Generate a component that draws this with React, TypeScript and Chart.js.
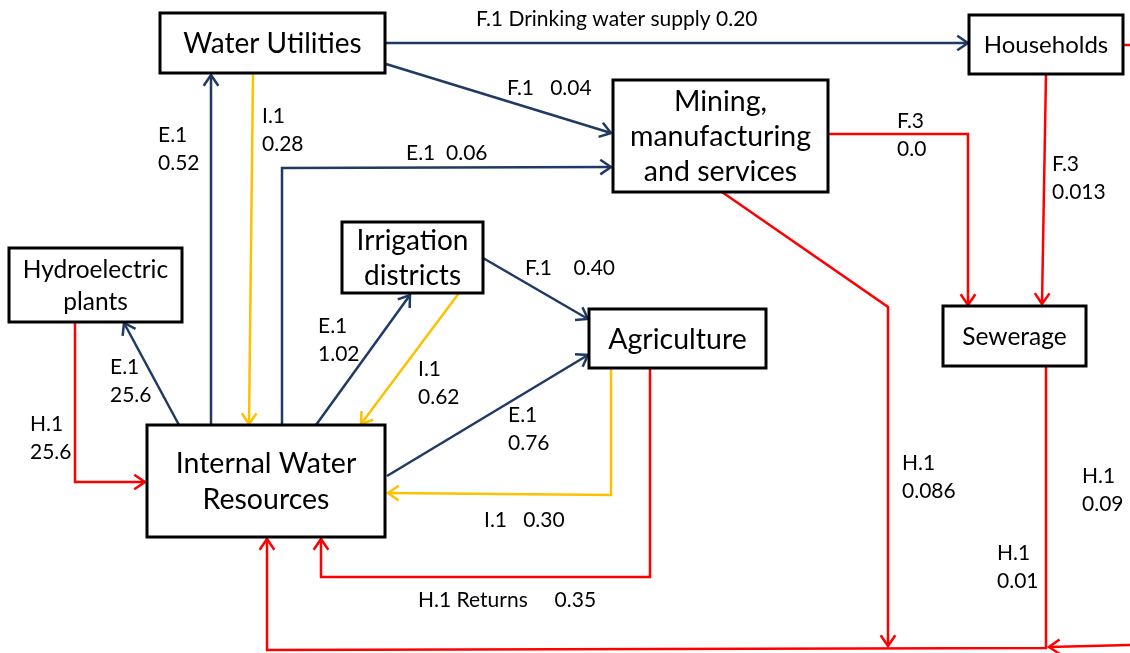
import React, { useEffect, useRef } from "react";
import { Chart, registerables } from "chart.js";

Chart.register(...registerables);

// ---------- data ----------
const NODE_NAMES = [
  "Water Utilities",
  "Households",
  "Mining,\nmanufacturing\nand services",
  "Hydroelectric\nplants",
  "Irrigation\ndistricts",
  "Agriculture",
  "Sewerage",
  "Internal Water\nResources",
];

const FLOW_CODES = [
  "F.1 Drinking water supply", "F.1", "E.1", "E.1", "I.1", "E.1", "H.1", "E.1", "I.1",
  "F.1", "E.1", "I.1", "H.1 Returns", "F.3", "F.3", "H.1", "H.1", "H.1",
];
const FLOW_VALUES = [
  "0.20", "0.04", "0.06", "0.52", "0.28", "25.6", "25.6", "1.02", "0.62",
  "0.40", "0.76", "0.30", "0.35", "0.0", "0.013", "0.086", "0.01", "0.09",
];

// ---------- layout (diagram coordinates, 0..1130 x 0..653) ----------
const NODE_BOXES = [
  [160, 13, 385, 73],
  [969, 15, 1123, 74],
  [613, 80, 828, 192],
  [9, 248, 182, 322],
  [342, 222, 483, 293],
  [589, 309, 766, 368],
  [943, 306, 1086, 366],
  [147, 425, 385, 537],
];
const NODE_FONT = [28, 24, 28.5, 24.5, 28, 28.5, 24.5, 28.5];
const NODE_LINE_GAP = [0, 0, 35, 32, 35, 0, 0, 36];

// label: [x, y, stacked?, gap spaces]
const LABEL_POS = [
  [476, 19, 0, 1], [507, 88, 0, 3], [406, 153, 0, 2], [158, 135, 1, 0], [262, 116, 1, 0],
  [110, 367, 1, 0], [30, 424, 1, 0], [318, 326, 1, 0], [418, 369, 1, 0], [525, 268, 0, 4],
  [508, 415, 1, 0], [484, 520, 0, 3], [418, 600, 0, 5], [897, 121, 1, 0], [1052, 164, 1, 0],
  [902, 463, 1, 0], [997, 553, 1, 0], [1082, 476, 1, 0],
];

// connector paths; last point is arrow tip if ARROW flag set
const PATHS = [
  [[386, 43], [968, 43]],
  [[386, 64], [611, 133]],
  [[282, 425], [282, 168], [611, 167]],
  [[211, 425], [211, 75]],
  [[253, 74], [249, 424]],
  [[179, 425], [124, 323]],
  [[75, 322], [75, 482], [145, 482]],
  [[316, 425], [410, 295]],
  [[459, 293], [361, 424]],
  [[483, 258], [588, 319]],
  [[387, 476], [588, 355]],
  [[611, 368], [611, 495], [388, 493]],
  [[650, 368], [650, 577], [321, 577], [321, 539]],
  [[828, 134], [968, 134], [968, 305]],
  [[1046, 74], [1042, 304]],
  [[722, 192], [888, 307], [888, 646]],
  [[1046, 366], [1046, 648], [267, 650], [267, 539]],
  [[1130, 645], [1049, 647]],
  [[1117, 45], [1130, 45]],
];
const PATH_KIND = [
  "supply", "supply", "abstraction", "abstraction", "inflow", "abstraction", "return", "abstraction", "inflow",
  "supply", "abstraction", "inflow", "return", "return", "return", "return", "return", "return", "return",
];
const PATH_ARROW = [1, 1, 1, 1, 1, 1, 1, 1, 1, 1, 1, 1, 1, 1, 1, 1, 1, 1, 0];

const KIND_COLOR: Record<string, string> = {
  supply: "#1F3A63",
  abstraction: "#1F3A63",
  inflow: "#FFC000",
  return: "#FF0000",
};

const FONT = 'Lato, "Open Sans", sans-serif';
const LABEL_FONT = 21;

export default function App() {
  const ref = useRef<HTMLCanvasElement | null>(null);

  useEffect(() => {
    if (!ref.current) return;

    const datasets = PATHS.map((p, i) => ({
      label: "path" + i,
      data: p.map(([x, y]) => ({ x, y })),
      showLine: true,
      borderColor: KIND_COLOR[PATH_KIND[i]],
      backgroundColor: KIND_COLOR[PATH_KIND[i]],
      borderWidth: 2.5,
      pointRadius: 0,
      tension: 0,
      fill: false,
      borderJoinStyle: "miter" as const,
    }));

    const diagramPlugin = {
      id: "diagram",
      afterDatasetsDraw(chart: any) {
        const ctx = chart.ctx as CanvasRenderingContext2D;
        const sx = chart.scales.x;
        const sy = chart.scales.y;
        const X = (v: number) => sx.getPixelForValue(v);
        const Y = (v: number) => sy.getPixelForValue(v);
        ctx.save();

        // arrowheads
        PATHS.forEach((p, i) => {
          if (!PATH_ARROW[i]) return;
          const a = p[p.length - 2];
          const b = p[p.length - 1];
          const x1 = X(a[0]), y1 = Y(a[1]), x2 = X(b[0]), y2 = Y(b[1]);
          const ang = Math.atan2(y2 - y1, x2 - x1);
          const len = 13;
          const spread = 0.6;
          ctx.strokeStyle = KIND_COLOR[PATH_KIND[i]];
          ctx.lineWidth = 2.5;
          ctx.lineJoin = "miter";
          ctx.beginPath();
          ctx.moveTo(x2 - len * Math.cos(ang - spread), y2 - len * Math.sin(ang - spread));
          ctx.lineTo(x2, y2);
          ctx.lineTo(x2 - len * Math.cos(ang + spread), y2 - len * Math.sin(ang + spread));
          ctx.stroke();
        });

        // boxes
        NODE_BOXES.forEach((b, i) => {
          const x1 = X(b[0]), y1 = Y(b[1]), x2 = X(b[2]), y2 = Y(b[3]);
          ctx.fillStyle = "#ffffff";
          ctx.fillRect(x1, y1, x2 - x1, y2 - y1);
          ctx.strokeStyle = "#000000";
          ctx.lineWidth = 3;
          ctx.strokeRect(x1, y1, x2 - x1, y2 - y1);
          const lines = NODE_NAMES[i].split("\n");
          ctx.fillStyle = "#000000";
          ctx.font = `${NODE_FONT[i]}px ${FONT}`;
          ctx.textAlign = "center";
          ctx.textBaseline = "middle";
          const cx = (x1 + x2) / 2;
          const cy = (y1 + y2) / 2;
          const gap = NODE_LINE_GAP[i];
          lines.forEach((ln, k) => {
            ctx.fillText(ln, cx, cy + 1 + (k - (lines.length - 1) / 2) * gap);
          });
        });

        // flow labels
        ctx.fillStyle = "#000000";
        ctx.font = `${LABEL_FONT}px ${FONT}`;
        ctx.textAlign = "left";
        ctx.textBaseline = "middle";
        LABEL_POS.forEach((pos, i) => {
          const [x, y, stacked, gap] = pos;
          if (stacked) {
            ctx.fillText(FLOW_CODES[i], X(x), Y(y));
            ctx.fillText(FLOW_VALUES[i], X(x), Y(y + 28));
          } else {
            ctx.fillText(FLOW_CODES[i] + " ".repeat(gap) + FLOW_VALUES[i], X(x), Y(y));
          }
        });
        ctx.restore();
      },
    };

    const chart = new Chart(ref.current, {
      type: "scatter",
      data: { datasets },
      options: {
        animation: false,
        responsive: false,
        maintainAspectRatio: false,
        layout: { padding: 0 },
        scales: {
          x: { type: "linear", min: 0, max: 1130, display: false },
          y: { type: "linear", min: 0, max: 653, reverse: true, display: false },
        },
        plugins: {
          legend: { display: false },
          tooltip: { enabled: false },
        },
        elements: { line: { borderCapStyle: "butt" } },
      },
      plugins: [diagramPlugin],
    });
    return () => chart.destroy();
  }, []);

  return (
    <div style={{ position: "absolute", left: 0, top: 0, width: 1130, height: 653, background: "#fff" }}>
      <canvas ref={ref} width={1130} height={653} style={{ display: "block" }} />
    </div>
  );
}
